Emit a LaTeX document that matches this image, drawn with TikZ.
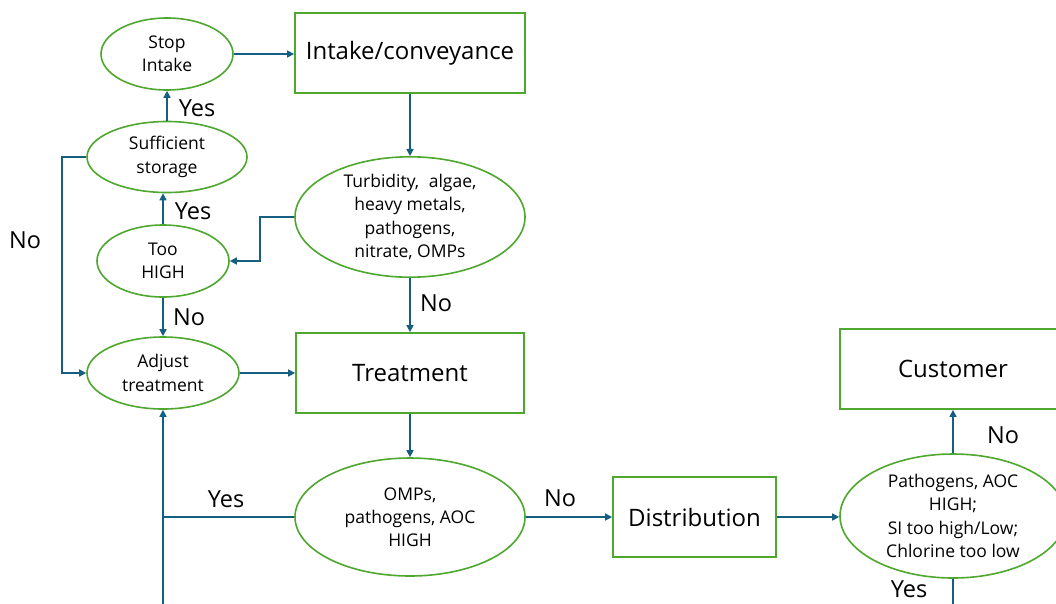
\documentclass[tikz,border=0pt]{standalone}
\usepackage{fontspec}
\setmainfont{Open Sans}
\usetikzlibrary{shapes.geometric,arrows.meta}
\definecolor{flowgreen}{HTML}{4EA72E}
\definecolor{flowblue}{HTML}{156082}
\begin{document}
\begin{tikzpicture}[x=1pt,y=-1pt,
  stagebox/.style={draw=flowgreen,line width=1.8pt,rectangle,inner sep=0pt,
    font=\fontsize{24}{28}\selectfont},
  checkoval/.style={draw=flowgreen,line width=1.6pt,ellipse,inner sep=0pt,
    align=center,font=\fontsize{17.5}{23.2}\selectfont},
  link/.style={draw=flowblue,line width=1.5pt},
  flow/.style={link,-{Triangle[length=7pt,width=7pt]}},
  answer/.style={font=\fontsize{23.5}{27}\selectfont}]
\clip (0,0) rectangle (1056,603);
\fill[white] (0,0) rectangle (1056,603);

% process stages
\node[stagebox,minimum width=230pt,minimum height=80pt] (intake) at (410,53) {Intake/conveyance};
\node[stagebox,minimum width=228pt,minimum height=80pt] (treat) at (410,373) {Treatment};
\node[stagebox,minimum width=163pt,minimum height=80pt] (dist) at (694.5,517) {Distribution};
\node[stagebox,minimum width=226pt,minimum height=80pt] (cust) at (953,369) {Customer};

% checks and actions
\node[checkoval,minimum width=132pt,minimum height=72pt] (stop) at (167,54) {Stop\\Intake};
\node[checkoval,minimum width=160pt,minimum height=71pt] (suff) at (167,157) {Sufficient\\storage};
\node[checkoval,minimum width=132pt,minimum height=72pt] (toohigh) at (163,261) {Too\\HIGH};
\node[checkoval,minimum width=152pt,minimum height=72pt] (adjust) at (163,373) {Adjust\\treatment};
\node[checkoval,minimum width=230pt,minimum height=120pt] (turb) at (410,217)
  {Turbidity,\hspace{0.55em}algae,\\heavy metals,\\pathogens,\\nitrate, OMPs};
\node[checkoval,minimum width=230pt,minimum height=118pt] (omps) at (410,517)
  {OMPs,\\pathogens, AOC\\HIGH};
\node[checkoval,minimum width=226pt,minimum height=124pt] (path) at (953,516)
  {Pathogens, AOC\\HIGH;\\SI too high/Low;\\Chlorine too low};

% loose ends at the bottom edge
\coordinate (loopin) at (163,606);
\coordinate (custout) at (953,606);

% connectors
\draw[flow] (stop.east) -- (stop.east -| intake.west);
\draw[flow] (intake.south) -- (turb.north);
\draw[flow] (turb.west) -- ++(-34,0) |- (toohigh.east);
\draw[flow] (turb.south) -- (treat.north);
\draw[flow] (toohigh.north) -- (toohigh.north |- suff.south);
\draw[flow] (suff.north) -- (stop.south);
\draw[flow] (suff.west) -- ++(-24,0) |- (adjust.west);
\draw[flow] (toohigh.south) -- (adjust.north);
\draw[flow] (adjust.east) -- (adjust.east -| treat.west);
\draw[flow] (treat.south) -- (omps.north);
\draw[flow] (omps.east) -- (omps.east -| dist.west);
\draw[flow] (dist.east) -- (dist.east -| path.west);
\draw[flow] (path.north) -- (cust.south);
\draw[link] (omps.west) -- (omps.west -| adjust.south);
\draw[flow] (loopin) -- (adjust.south);
\draw[link] (path.south) -- (custout);

% answers on the connectors
\node[answer] (a1) at (197,108) {Yes};
\node[answer] (a2) at (193,211) {Yes};
\node[answer] (a3) at (25,240) {No};
\node[answer] (a4) at (189,317) {No};
\node[answer] (a5) at (436,303) {No};
\node[answer] (a6) at (226,499) {Yes};
\node[answer] (a7) at (560,498) {No};
\node[answer] (a8) at (1003,435) {No};
\node[answer] (a9) at (909,589) {Yes};
\end{tikzpicture}
\end{document}
